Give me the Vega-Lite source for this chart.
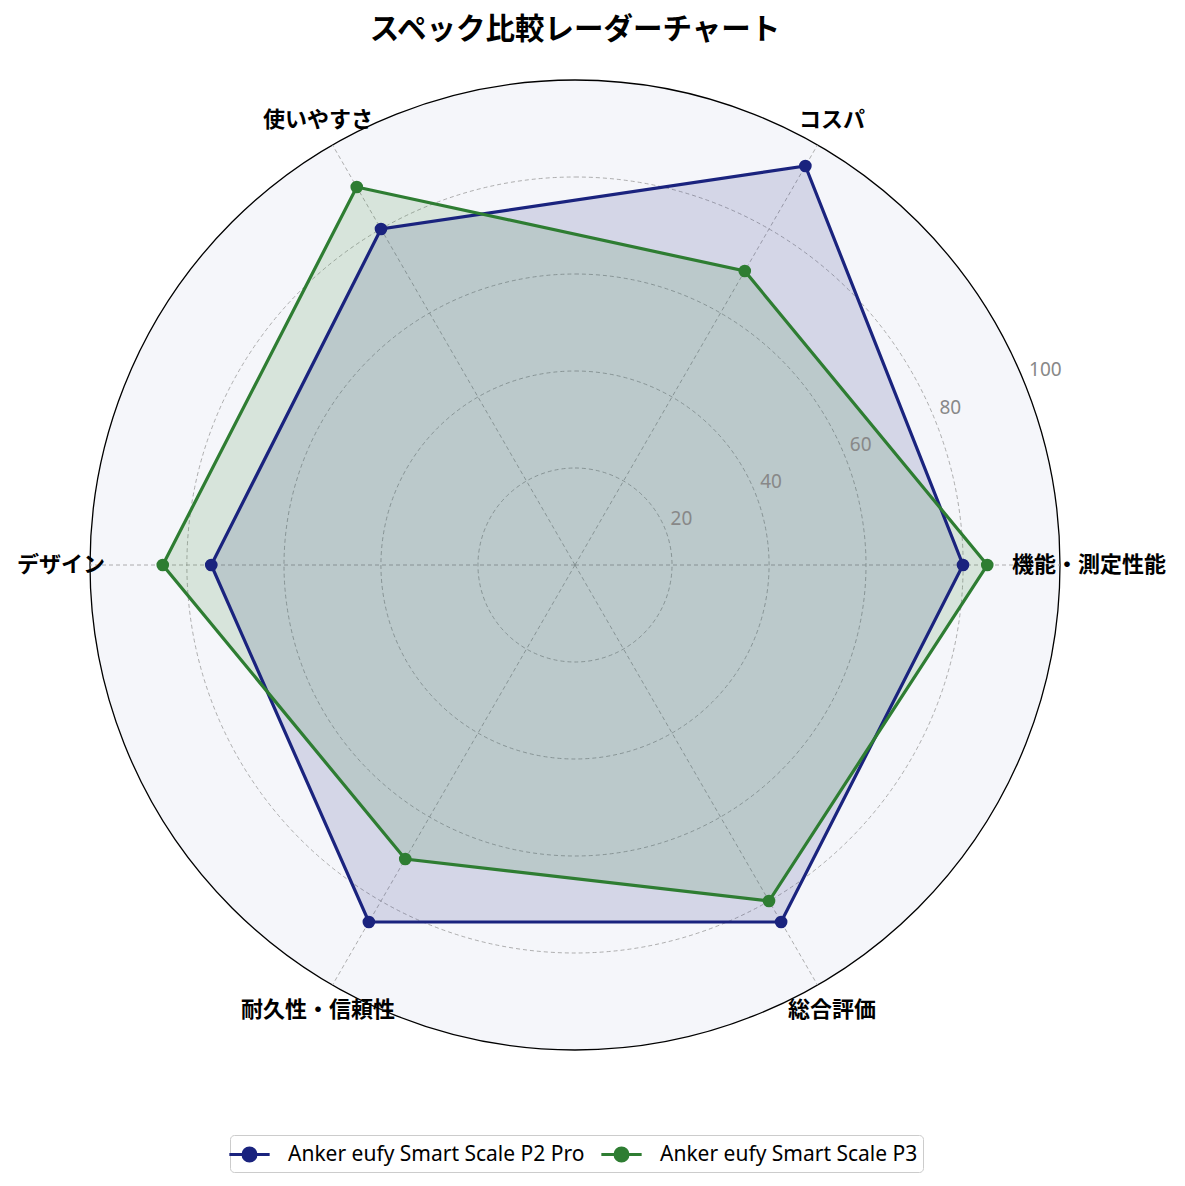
{
  "$schema": "https://vega.github.io/schema/vega-lite/v6.json",
  "width": 970,
  "height": 970,
  "autosize": {"type": "none"},
  "padding": {"left": 90, "top": 80, "right": 125, "bottom": 136},
  "background": "white",
  "config": {"view": {"stroke": null}, "font": "Noto Sans CJK JP"},
  "title": {
    "text": "スペック比較レーダーチャート",
    "font": "Noto Sans CJK JP",
    "fontSize": 29.5,
    "fontWeight": "bold",
    "color": "black",
    "anchor": "middle",
    "frame": "group",
    "offset": 32
  },
  "datasets": {
    "scores": [
      {"product": "Anker eufy Smart Scale P2 Pro", "category": "機能・測定性能", "order": 0, "score": 80},
      {"product": "Anker eufy Smart Scale P2 Pro", "category": "コスパ", "order": 1, "score": 95},
      {"product": "Anker eufy Smart Scale P2 Pro", "category": "使いやすさ", "order": 2, "score": 80},
      {"product": "Anker eufy Smart Scale P2 Pro", "category": "デザイン", "order": 3, "score": 75},
      {"product": "Anker eufy Smart Scale P2 Pro", "category": "耐久性・信頼性", "order": 4, "score": 85},
      {"product": "Anker eufy Smart Scale P2 Pro", "category": "総合評価", "order": 5, "score": 85},
      {"product": "Anker eufy Smart Scale P3", "category": "機能・測定性能", "order": 0, "score": 85},
      {"product": "Anker eufy Smart Scale P3", "category": "コスパ", "order": 1, "score": 70},
      {"product": "Anker eufy Smart Scale P3", "category": "使いやすさ", "order": 2, "score": 90},
      {"product": "Anker eufy Smart Scale P3", "category": "デザイン", "order": 3, "score": 85},
      {"product": "Anker eufy Smart Scale P3", "category": "耐久性・信頼性", "order": 4, "score": 70},
      {"product": "Anker eufy Smart Scale P3", "category": "総合評価", "order": 5, "score": 80}
    ],
    "axes": [
      {"category": "機能・測定性能", "order": 0},
      {"category": "コスパ", "order": 1},
      {"category": "使いやすさ", "order": 2},
      {"category": "デザイン", "order": 3},
      {"category": "耐久性・信頼性", "order": 4},
      {"category": "総合評価", "order": 5}
    ],
    "rings": [{"r": 20}, {"r": 40}, {"r": 60}, {"r": 80}],
    "ticks": [{"r": 20}, {"r": 40}, {"r": 60}, {"r": 80}, {"r": 100}]
  },
  "layer": [
    {
      "data": {"values": [{"r": 100}]},
      "mark": {"type": "arc", "theta": 0, "theta2": 6.2832, "fill": "#f5f6fa", "stroke": "black", "strokeWidth": 1.3},
      "encoding": {
        "radius": {"field": "r", "type": "quantitative", "stack": null, "scale": {"type": "linear", "domain": [0, 100], "zero": true}}
      }
    },
    {
      "data": {"name": "rings"},
      "mark": {"type": "arc", "theta": 0, "theta2": 6.2832, "filled": false, "stroke": "#9a9a9a", "strokeWidth": 0.8, "strokeDash": [4, 3]},
      "encoding": {
        "radius": {"field": "r", "type": "quantitative", "stack": null, "scale": {"type": "linear", "domain": [0, 100], "zero": true}}
      }
    },
    {
      "data": {"name": "axes"},
      "transform": [
        {"calculate": "100 * cos(datum.order * PI / 3)", "as": "xe"},
        {"calculate": "100 * sin(datum.order * PI / 3)", "as": "ye"},
        {"calculate": "0", "as": "xs"}
      ],
      "mark": {"type": "rule", "stroke": "#9a9a9a", "strokeWidth": 0.8, "strokeDash": [4, 3]},
      "encoding": {
        "x": {"field": "xs", "type": "quantitative", "scale": {"domain": [-100, 100], "nice": false, "zero": false}, "axis": null},
        "y": {"field": "xs", "type": "quantitative", "scale": {"domain": [-100, 100], "nice": false, "zero": false}, "axis": null},
        "x2": {"field": "xe"},
        "y2": {"field": "ye"}
      }
    },
    {
      "data": {"name": "scores"},
      "transform": [
        {"calculate": "datum.score * cos(datum.order * PI / 3)", "as": "x"},
        {"calculate": "datum.score * sin(datum.order * PI / 3)", "as": "y"}
      ],
      "encoding": {
        "x": {"field": "x", "type": "quantitative", "scale": {"domain": [-100, 100], "nice": false, "zero": false}, "axis": null},
        "y": {"field": "y", "type": "quantitative", "scale": {"domain": [-100, 100], "nice": false, "zero": false}, "axis": null},
        "order": {"field": "order", "type": "quantitative"},
        "color": {
          "field": "product",
          "type": "nominal",
          "scale": {
            "domain": ["Anker eufy Smart Scale P2 Pro", "Anker eufy Smart Scale P3"],
            "range": ["#1a237e", "#2e7d32"]
          },
          "legend": {
            "title": null,
            "orient": "none",
            "legendX": 140,
            "legendY": 1055,
            "direction": "horizontal",
            "columns": 2,
            "columnPadding": 10,
            "padding": 5,
            "strokeColor": "#cccccc",
            "fillColor": "white",
            "cornerRadius": 4,
            "symbolType": "M-1.55,0H1.55M-0.5,0A0.5,0.5 0 1,0 0.5,0A0.5,0.5 0 1,0 -0.5,0Z",
            "symbolSize": 676,
            "symbolStrokeWidth": 3,
            "symbolOpacity": 1,
            "labelFont": "Noto Sans",
            "labelFontSize": 21,
            "labelColor": "black",
            "labelOffset": 24,
            "labelLimit": 400
          }
        }
      },
      "layer": [
        {
          "mark": {"type": "line", "interpolate": "linear-closed", "filled": true, "fillOpacity": 0.15, "strokeOpacity": 0}
        },
        {
          "mark": {"type": "line", "interpolate": "linear-closed", "strokeWidth": 3.2}
        },
        {
          "mark": {"type": "point", "filled": true, "size": 160, "opacity": 1}
        }
      ]
    },
    {
      "data": {"name": "axes"},
      "transform": [
        {"calculate": "106 * cos(datum.order * PI / 3)", "as": "x"},
        {"calculate": "106 * sin(datum.order * PI / 3)", "as": "y"}
      ],
      "mark": {"type": "text", "font": "Noto Sans CJK JP", "fontSize": 22, "fontWeight": "bold", "color": "black", "align": "center", "baseline": "middle"},
      "encoding": {
        "x": {"field": "x", "type": "quantitative", "scale": {"domain": [-100, 100], "nice": false, "zero": false}, "axis": null},
        "y": {"field": "y", "type": "quantitative", "scale": {"domain": [-100, 100], "nice": false, "zero": false}, "axis": null},
        "text": {"field": "category", "type": "nominal"}
      }
    },
    {
      "data": {"name": "ticks"},
      "transform": [
        {"calculate": "datum.r * cos(PI / 8)", "as": "x"},
        {"calculate": "datum.r * sin(PI / 8)", "as": "y"}
      ],
      "mark": {"type": "text", "font": "Noto Sans", "fontSize": 19, "color": "#888888", "align": "left", "baseline": "alphabetic", "dx": 6, "dy": -3},
      "encoding": {
        "x": {"field": "x", "type": "quantitative", "scale": {"domain": [-100, 100], "nice": false, "zero": false}, "axis": null},
        "y": {"field": "y", "type": "quantitative", "scale": {"domain": [-100, 100], "nice": false, "zero": false}, "axis": null},
        "text": {"field": "r", "type": "quantitative"}
      }
    }
  ]
}
